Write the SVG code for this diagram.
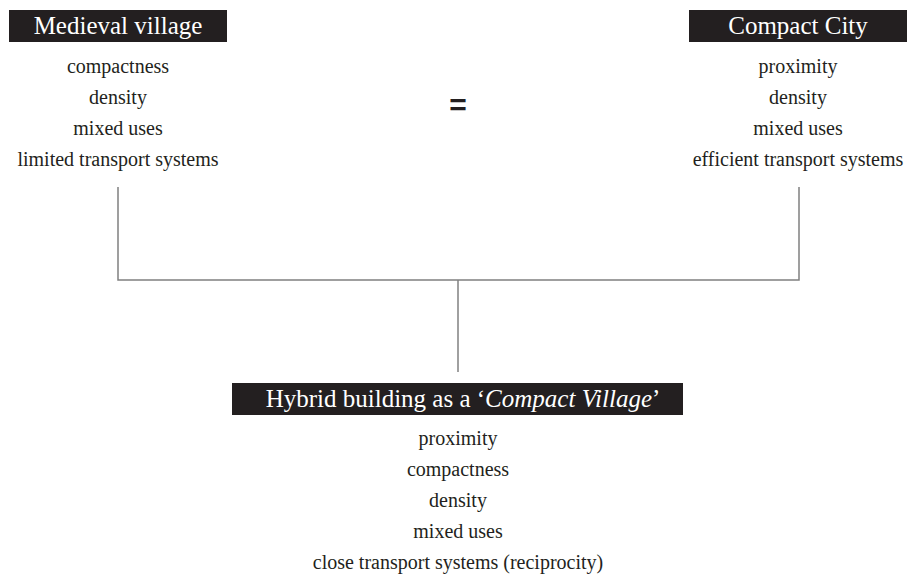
<svg xmlns="http://www.w3.org/2000/svg" width="914" height="582" viewBox="0 0 914 582">
<style>
text{font-family:'Liberation Serif','Times New Roman',Times,serif}
.box{fill:#231f20}
.head{font-size:25px;fill:#ffffff;text-anchor:middle}
.item{font-size:20px;fill:#231f20;text-anchor:middle}
.conn{stroke:#808080;stroke-width:1.5;fill:none}
</style>
<rect width="914" height="582" fill="#ffffff"/>
<g id="medieval" font-family="Liberation Serif, serif">
<rect class="box" x="9" y="10" width="218" height="32"/>
<text class="head" x="118" y="34">Medieval village</text>
<text class="item" x="118" y="73">compactness</text>
<text class="item" x="118" y="104">density</text>
<text class="item" x="118" y="135">mixed uses</text>
<text class="item" x="118" y="166">limited transport systems</text>
</g>
<g id="compact-city" font-family="Liberation Serif, serif">
<rect class="box" x="689" y="10" width="218" height="32"/>
<text class="head" x="798" y="34">Compact City</text>
<text class="item" x="798" y="73">proximity</text>
<text class="item" x="798" y="104">density</text>
<text class="item" x="798" y="135">mixed uses</text>
<text class="item" x="798" y="166">efficient transport systems</text>
</g>
<g id="equals">
<text x="458" y="115" style="font-family:'Liberation Sans',sans-serif;font-size:30px;font-weight:bold;fill:#231f20;text-anchor:middle">=</text>
</g>
<g id="hybrid" font-family="Liberation Serif, serif">
<rect class="box" x="232" y="383" width="451" height="32"/>
<text class="head" x="463" y="407">Hybrid building as a ‘<tspan font-style="italic">Compact Village</tspan>’</text>
<text class="item" x="458" y="445">proximity</text>
<text class="item" x="458" y="476">compactness</text>
<text class="item" x="458" y="507">density</text>
<text class="item" x="458" y="538">mixed uses</text>
<text class="item" x="458" y="569">close transport systems (reciprocity)</text>
</g>
<g id="connectors">
<polyline class="conn" points="118,187 118,280 799,280 799,187"/>
<line class="conn" x1="458" y1="280" x2="458" y2="372"/>
</g>
</svg>
